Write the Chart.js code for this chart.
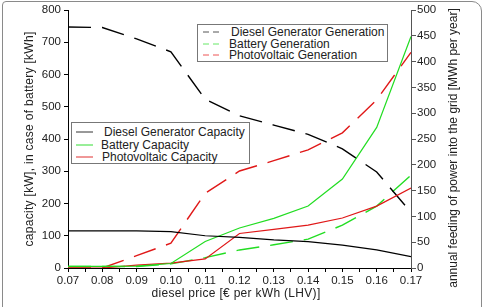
<!DOCTYPE html>
<html>
<head>
<meta charset="utf-8">
<script src="https://cdn.jsdelivr.net/npm/chart.js@4"></script>
<style>
  body { margin:0; background:#fff; font-family:"Liberation Sans", Arial, sans-serif; }
  #wrap { position:relative; width:483px; height:307px; overflow:hidden; }
  #frame { position:absolute; left:2px; top:1px; width:478px; height:330px; border:1px solid #8a8a8a; border-radius:4px 10px 0 0; }
  canvas { position:absolute; left:0; top:0; }
  .leg { position:absolute; border:1px solid #777; background:#fff; font-size:12px; color:#222; }
  .row { position:absolute; left:0; height:12px; line-height:12px; white-space:nowrap; }
  .row svg { position:absolute; top:0; }
  .row span { position:absolute; top:0; }
</style>
</head>
<body>
<div id="wrap">
  <div id="frame"></div>
  <canvas id="chart" width="483" height="307"></canvas>
  <div class="leg" style="left:197px;top:24px;width:189px;height:36px;">
    <div class="row" style="top:1px"><svg width="24" height="12" style="left:4px"><line x1="1" y1="6" x2="17" y2="6" stroke="#555" stroke-width="1" stroke-dasharray="6,4"/></svg><span style="left:33px">Diesel Generator Generation</span></div>
    <div class="row" style="top:13px"><svg width="24" height="12" style="left:4px"><line x1="1" y1="6" x2="17" y2="6" stroke="#66e866" stroke-width="1" stroke-dasharray="6,4"/></svg><span style="left:31px">Battery Generation</span></div>
    <div class="row" style="top:24px"><svg width="24" height="12" style="left:4px"><line x1="1" y1="6" x2="17" y2="6" stroke="#ee5555" stroke-width="1" stroke-dasharray="6,4"/></svg><span style="left:31px">Photovoltaic Generation</span></div>
  </div>
  <div class="leg" style="left:71px;top:122px;width:177px;height:40px;">
    <div class="row" style="top:3px"><svg width="24" height="12" style="left:3px"><line x1="1" y1="6" x2="18" y2="6" stroke="#333" stroke-width="1"/></svg><span style="left:32px">Diesel Generator Capacity</span></div>
    <div class="row" style="top:16px"><svg width="24" height="12" style="left:3px"><line x1="1" y1="6" x2="18" y2="6" stroke="#33dd33" stroke-width="1"/></svg><span style="left:29px">Battery Capacity</span></div>
    <div class="row" style="top:28px"><svg width="24" height="12" style="left:3px"><line x1="1" y1="6" x2="18" y2="6" stroke="#e03030" stroke-width="1"/></svg><span style="left:30px">Photovoltaic Capacity</span></div>
  </div>
</div>
<script>
// diesel price [EUR per kWh]
const prices = [0.07, 0.08, 0.09, 0.10, 0.11, 0.12, 0.13, 0.14, 0.15, 0.16, 0.17];

// capacities, left axis [kW] / [kWh]
const dieselCapacity  = [115, 115, 115, 113, 100, 95, 87, 82, 71, 56, 35];
const batteryCapacity = [5, 5, 6, 14, 82, 124, 154, 192, 276, 436, 718];
const pvCapacity      = [0, 0, 9, 15, 28, 107, 120, 133, 155, 192, 248];

// generation, right axis [MWh per year]
const dieselGeneration  = [467, 466, 444, 419, 327, 295, 277, 259, 231, 186, 108];
const batteryGeneration = [3, 3, 3, 8, 20, 35, 45, 56, 83, 120, 180];
const pvGeneration      = [0, 0, 24, 48, 145, 188, 208, 229, 262, 326, 418];

const xTitle = 'diesel price [€ per kWh (LHV)]';
const yTitle = 'capacity [kW], in case of battery [kWh]';
const y1Title = 'annual feeding of power into the grid [MWh per year]';

function pts(vals) {
  return vals.map((v, i) => ({x: prices[i], y: v}));
}

function line(label, vals, color, axis, dashed) {
  return {
    label: label,
    data: pts(vals),
    borderColor: color,
    borderWidth: dashed ? 1.4 : 1.2,
    borderDash: dashed ? [23, 11] : [],
    yAxisID: axis,
    pointRadius: 0,
    tension: 0,
    fill: false
  };
}

const FONT = '"Liberation Sans", Arial, sans-serif';

function drawTitle(ctx, text, x, y, rotate, spacing) {
  ctx.save();
  ctx.fillStyle = '#222';
  ctx.font = '12px ' + FONT;
  ctx.textAlign = 'center';
  ctx.textBaseline = 'middle';
  ctx.letterSpacing = spacing;
  ctx.translate(x, y);
  if (rotate) ctx.rotate(-Math.PI / 2);
  ctx.fillText(text, 0, 0);
  ctx.restore();
}

const titles = {
  id: 'titles',
  afterDraw(chart) {
    const ctx = chart.ctx;
    drawTitle(ctx, xTitle, 236, 294, false, '0.3px');
    drawTitle(ctx, yTitle, 30, 139, true, '0.3px');
    drawTitle(ctx, y1Title, 454, 148, true, '0px');
  }
};

const tickFont = {family: FONT, size: 11.5};

new Chart(document.getElementById('chart'), {
  type: 'line',
  data: {
    datasets: [
      line('Diesel Generator Capacity', dieselCapacity, '#000000', 'y', false),
      line('Battery Capacity', batteryCapacity, '#22dd22', 'y', false),
      line('Photovoltaic Capacity', pvCapacity, '#e01818', 'y', false),
      line('Diesel Generator Generation', dieselGeneration, '#000000', 'y1', true),
      line('Battery Generation', batteryGeneration, '#22dd22', 'y1', true),
      line('Photovoltaic Generation', pvGeneration, '#e01818', 'y1', true)
    ]
  },
  options: {
    responsive: false,
    animation: false,
    devicePixelRatio: 1,
    layout: {padding: {top: 10, left: 0, right: 0, bottom: 0}},
    plugins: {legend: {display: false}, tooltip: {enabled: false}},
    scales: {
      x: {
        type: 'linear',
        min: 0.07,
        max: 0.17,
        afterFit: s => { s.height = 39; },
        border: {color: '#000', width: 1},
        grid: {drawOnChartArea: false, tickLength: 4, color: '#000'},
        ticks: {
          stepSize: 0.005,
          color: '#222',
          font: tickFont,
          padding: 2,
          maxRotation: 0,
          autoSkip: false,
          callback: v => Math.abs(v * 100 - Math.round(v * 100)) < 1e-6 ? v.toFixed(2) : ''
        }
      },
      y: {
        position: 'left',
        min: 0,
        max: 800,
        afterFit: s => { s.width = 68; },
        border: {color: '#000', width: 1},
        grid: {drawOnChartArea: false, tickLength: 4, color: '#000'},
        ticks: {
          stepSize: 50,
          color: '#222',
          font: tickFont,
          padding: 3,
          callback: v => v % 100 === 0 ? v : ''
        }
      },
      y1: {
        position: 'right',
        min: 0,
        max: 500,
        afterFit: s => { s.width = 72; },
        border: {color: '#555', width: 1, dash: [7, 4]},
        grid: {drawOnChartArea: false, tickLength: 5, color: '#555'},
        ticks: {
          stepSize: 50,
          color: '#222',
          font: tickFont,
          padding: 1
        }
      }
    }
  },
  plugins: [titles]
});
</script>
</body>
</html>
